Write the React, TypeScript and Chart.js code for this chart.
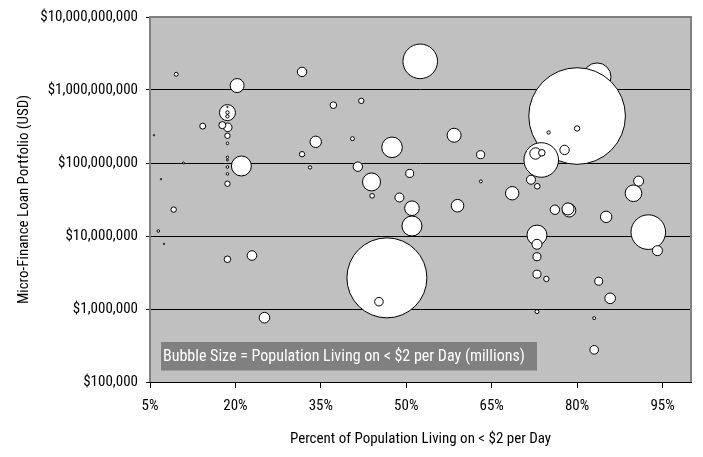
import React, { useEffect, useRef } from 'react';
import { Chart, registerables } from 'chart.js';

Chart.register(...registerables);

// Percent of population living on < $2 per day
const povertyPct = [
  9.6, 20.3, 31.7, 52.45, 18.6, 18.6, 18.6, 18.6, 14.26, 17.7,
  18.65, 18.6, 18.6, 18.6, 18.6, 18.6, 18.6, 18.6, 21.05, 5.7,
  10.86, 6.93, 31.7, 34.1, 33.1, 37.2, 42.1, 40.55, 47.5, 41.5,
  43.9, 44.0, 48.8, 50.6, 80.0, 83.5, 80.0, 75.0, 77.8, 73.7,
  72.7, 73.8, 58.4, 63.05, 63.1, 71.9, 73.0, 68.6, 90.8, 89.9,
  59.0, 76.1, 78.4, 78.6, 72.95, 72.95, 72.95, 72.95, 74.6, 72.95,
  83.8, 85.8, 83.0, 83.0, 85.1, 92.5, 94.1, 9.16, 6.46, 7.46,
  18.6, 22.9, 25.1, 46.6, 45.2, 51.0, 51.0,
];

// Micro-finance loan portfolio (USD)
const loanPortfolio = [
  1.64e9, 1.15e9, 1.77e9, 2.47e9, 4.9e8, 5.86e8, 4.92e8, 4.35e8, 3.2e8, 3.3e8,
  3.08e8, 2.36e8, 1.86e8, 1.2e8, 1.1e8, 8.8e7, 7.1e7, 5.2e7, 9.1e7, 2.4e8,
  1.0e8, 6.0e7, 1.32e8, 1.95e8, 8.7e7, 6.2e8, 7.1e8, 2.15e8, 1.64e8, 8.9e7,
  5.5e7, 3.55e7, 3.37e7, 7.2e7, 4.4e8, 1.51e9, 2.97e8, 2.62e8, 1.51e8, 1.1e8,
  1.35e8, 1.38e8, 2.4e8, 1.3e8, 5.6e7, 5.9e7, 4.8e7, 3.85e7, 5.65e7, 3.85e7,
  2.6e7, 2.29e7, 2.35e7, 2.25e7, 1.03e7, 7.7e6, 5.2e6, 3.0e6, 2.58e6, 9.2e5,
  2.4e6, 1.4e6, 7.5e5, 2.76e5, 1.83e7, 1.13e7, 6.3e6, 2.3e7, 1.17e7, 7.8e6,
  4.8e6, 5.4e6, 7.6e5, 2.67e6, 1.26e6, 2.4e7, 1.37e7,
];

// Population living on < $2 per day (millions) -> bubble size
const populationMillions = [
  1.4, 17.4, 7.9, 106.5, 22.8, 0.17, 1.0, 1.0, 3.2, 4.4,
  6.6, 2.6, 0.6, 0.5, 0.36, 0.6, 0.6, 2.6, 35.6, 0.17,
  0.36, 0.17, 2.6, 11.6, 1.0, 3.9, 2.6, 1.4, 37.7, 7.9,
  28.8, 1.9, 7.2, 5.7, 830, 69.7, 2.6, 1.0, 7.9, 106.5,
  11.6, 3.9, 17.4, 5.7, 0.8, 7.2, 2.8, 16, 8.9, 24.5,
  14.1, 7.9, 12.8, 16, 35.6, 8.9, 5.7, 5.7, 2.6, 1.4,
  5.7, 10, 0.8, 6.6, 11.6, 106.5, 8.9, 2.6, 0.6, 0.17,
  3.9, 8.2, 10, 569, 6.6, 19, 35.6,
];

// Entries drawn first (behind everything else); the rest go largest first
const drawnBehind = [35];

const xTickValues = [5, 20, 35, 50, 65, 80, 95];
const yTickValues = [1e5, 1e6, 1e7, 1e8, 1e9, 1e10];

const xAxisTitle = 'Percent of Population Living on < $2 per Day';
const yAxisTitle = 'Micro-Finance Loan Portfolio (USD)';
const noteText = 'Bubble Size = Population Living on < $2 per Day (millions)';

const RADIUS_PER_SQRT_MILLION = 1.6766;
const FONT_FAMILY = "'Roboto Condensed', 'Liberation Sans Narrow', sans-serif";

const plotBackground = {
  id: 'plotBackground',
  beforeDraw(chart: any) {
    const { ctx, chartArea: a } = chart;
    ctx.save();
    ctx.fillStyle = '#C0C0C0';
    ctx.fillRect(a.left, a.top, a.right - a.left, a.bottom - a.top);
    ctx.restore();
  },
};

const plotFrameAndNote = {
  id: 'plotFrameAndNote',
  afterDraw(chart: any) {
    const { ctx, chartArea: a } = chart;
    ctx.save();
    ctx.strokeStyle = '#808080';
    ctx.lineWidth = 2;
    ctx.beginPath();
    ctx.moveTo(a.left, a.bottom);
    ctx.lineTo(a.left, a.top);
    ctx.lineTo(a.right, a.top);
    ctx.lineTo(a.right, a.bottom);
    ctx.stroke();
    ctx.strokeStyle = '#000';
    ctx.lineWidth = 1;
    ctx.beginPath();
    ctx.moveTo(a.left, a.bottom + 0.5);
    ctx.lineTo(a.right, a.bottom + 0.5);
    ctx.stroke();

    const bx = a.left + 11;
    const by = a.bottom - 40;
    const bw = 376;
    ctx.fillStyle = '#808080';
    ctx.fillRect(bx, by, bw, 28.5);
    ctx.fillStyle = '#FFFFFF';
    let size = 18;
    ctx.font = `${size}px ${FONT_FAMILY}`;
    while (size > 10 && ctx.measureText(noteText).width > bw - 4) {
      size -= 0.5;
      ctx.font = `${size}px ${FONT_FAMILY}`;
    }
    ctx.textBaseline = 'middle';
    ctx.textAlign = 'left';
    ctx.fillText(noteText, bx + 2, by + 15);
    ctx.restore();
  },
};

export default function App() {
  const canvasRef = useRef<HTMLCanvasElement | null>(null);

  useEffect(() => {
    if (!canvasRef.current) return;
    const bySize = populationMillions
      .map((_, i) => i)
      .filter((i) => !drawnBehind.includes(i))
      .sort((a, b) => populationMillions[b] - populationMillions[a]);
    const order = [...drawnBehind, ...bySize];
    const points = order.map((i) => ({
      x: povertyPct[i],
      y: loanPortfolio[i],
      r: RADIUS_PER_SQRT_MILLION * Math.sqrt(populationMillions[i]),
    }));

    const font = { family: FONT_FAMILY, size: 15 };

    const chart = new Chart(canvasRef.current, {
      type: 'bubble',
      data: {
        datasets: [
          {
            data: points,
            backgroundColor: '#FFFFFF',
            borderColor: '#000000',
            borderWidth: 1,
            hoverBorderWidth: 1,
          } as any,
        ],
      },
      options: {
        animation: false,
        responsive: false,
        maintainAspectRatio: false,
        events: [],
        layout: { autoPadding: false, padding: { top: 11, right: 12, left: 0, bottom: 0 } },
        plugins: {
          legend: { display: false },
          tooltip: { enabled: false },
        },
        scales: {
          x: {
            type: 'linear',
            min: 5,
            max: 100,
            afterBuildTicks: (s: any) => {
              s.ticks = xTickValues.map((v) => ({ value: v }));
            },
            afterFit: (s: any) => {
              s.height = 75;
            },
            ticks: {
              callback: (v: any) => `${v}%`,
              color: '#000',
              font,
              padding: 9,
              maxRotation: 0,
              autoSkip: false,
            },
            grid: {
              drawOnChartArea: false,
              drawTicks: true,
              tickLength: 6,
              tickColor: '#000',
            },
            border: { display: true, color: '#000', width: 1 },
            title: {
              display: true,
              text: xAxisTitle,
              color: '#000',
              font,
              padding: { top: 0, bottom: 9 },
            },
          },
          y: {
            type: 'logarithmic',
            min: 1e5,
            max: 1e10,
            afterBuildTicks: (s: any) => {
              s.ticks = yTickValues.map((v) => ({ value: v }));
            },
            afterFit: (s: any) => {
              s.width = 150;
            },
            ticks: {
              callback: (v: any) => '$' + Number(v).toLocaleString('en-US'),
              color: '#000',
              font,
              padding: 8,
              autoSkip: false,
            },
            grid: {
              color: (c: any) =>
                c.tick && (c.tick.value === 1e5 || c.tick.value === 1e10) ? 'rgba(0,0,0,0)' : '#000',
              tickColor: '#000',
              tickLength: 4,
              lineWidth: 1,
            },
            border: { display: false },
            title: {
              display: true,
              text: yAxisTitle,
              color: '#000',
              font,
              padding: { top: 15, bottom: 0 },
            },
          },
        },
      } as any,
      plugins: [plotBackground, plotFrameAndNote],
    });
    return () => chart.destroy();
  }, []);

  return (
    <div style={{ position: 'fixed', left: 0, top: 0, width: 703, height: 457, background: '#fff' }}>
      <canvas ref={canvasRef} width={703} height={457} style={{ display: 'block', width: 703, height: 457 }} />
    </div>
  );
}
